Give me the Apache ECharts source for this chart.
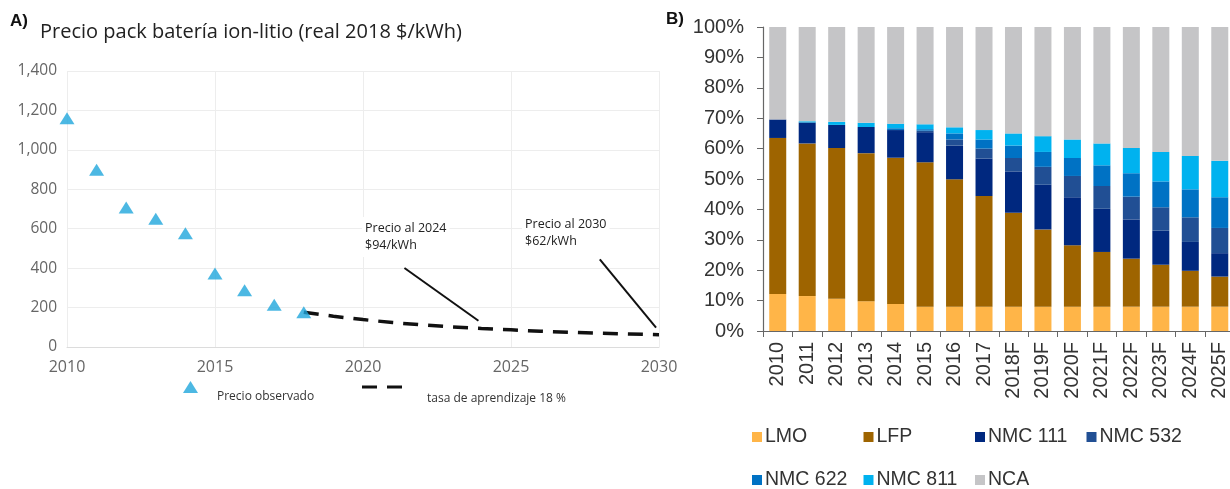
<!DOCTYPE html>
<html><head><meta charset="utf-8">
<script src="https://cdn.jsdelivr.net/npm/echarts@6/dist/echarts.min.js"></script>
<style>html,body{margin:0;padding:0;background:#fff}#c{width:1230px;height:489px}</style>
</head><body><div id="c"></div>
<script>
// ---- Panel A data ----
const observedYears = [2010, 2011, 2012, 2013, 2014, 2015, 2016, 2017, 2018];
const observedPrice = [1160, 899, 707, 650, 577, 373, 288, 214, 176];
const forecastYears = [2018, 2019, 2020, 2021, 2022, 2023, 2024, 2025, 2026, 2027, 2028, 2029, 2030];
const forecastPrice = [176, 156, 139, 124, 112, 102, 94, 87, 80, 75, 70, 66, 62];
const priceTicksY = [0, 200, 400, 600, 800, 1000, 1200, 1400];
const yearTicksX = [2010, 2015, 2020, 2025, 2030];
const annotationText = ['Precio al 2024\n$94/kWh', 'Precio al 2030\n$62/kWh'];
const annotationLines = [[[2021.4, 401], [2023.9, 133]], [[2028.0, 445], [2029.9, 98]]];

// ---- Panel B data (share %, stacked) ----
const categories = ['2010','2011','2012','2013','2014','2015','2016','2017','2018F','2019F','2020F','2021F','2022F','2023F','2024F','2025F'];
const lmo    = [12.2, 11.5, 10.6, 9.8, 8.9, 8.0, 8.0, 8.0, 8.0, 8.0, 8.0, 8.0, 8.0, 8.0, 8.0, 8.0];
const lfp    = [51.3, 50.2, 49.6, 48.7, 48.1, 47.5, 41.9, 36.4, 30.9, 25.4, 20.2, 18.0, 15.8, 13.8, 11.8, 9.9];
const nmc111 = [6.1, 6.9, 7.6, 8.6, 9.1, 9.9, 11.1, 12.3, 13.6, 14.7, 15.8, 14.2, 12.9, 11.2, 9.5, 7.7];
const nmc532 = [0, 0, 0, 0, 0, 0.5, 2.0, 3.3, 4.4, 5.9, 7.0, 7.5, 7.5, 7.7, 8.1, 8.3];
const nmc622 = [0, 0, 0, 0, 0.6, 0.5, 2.0, 3.0, 4.1, 4.9, 5.9, 6.8, 7.7, 8.5, 9.2, 10.1];
const nmc811 = [0, 0.4, 1.0, 1.4, 1.5, 1.6, 2.0, 3.1, 4.0, 5.2, 6.1, 7.2, 8.3, 9.7, 11.0, 12.0];
const nca    = [30.4, 31.0, 31.2, 31.5, 31.8, 32.0, 33.0, 33.9, 35.0, 35.9, 37.0, 38.3, 39.8, 41.1, 42.4, 44.0];
const seriesNamesB = ['LMO', 'LFP', 'NMC 111', 'NMC 532', 'NMC 622', 'NMC 811', 'NCA'];
const seriesValuesB = [lmo, lfp, nmc111, nmc532, nmc622, nmc811, nca];
const colorsB = ['#ffb548', '#9e6400', '#00287f', '#214f94', '#0072c4', '#00b2ef', '#c5c5c7'];

const fontA = '"Open Sans", "Noto Sans", sans-serif';
const fontB = '"Liberation Sans", Arial, sans-serif';

const chart = echarts.init(document.getElementById('c'), null, {renderer: 'canvas'});

const seriesB = seriesNamesB.map((n, i) => ({
  name: n, type: 'bar', stack: 'b', xAxisIndex: 1, yAxisIndex: 1,
  barWidth: 17, itemStyle: {color: colorsB[i]},
  data: seriesValuesB[i]
}));

// legend layout for panel B (4 columns, 2 rows)
const legendColsB = [752, 863.5, 975, 1086.5];
const legendRowsB = [427, 470];
const legendsB = seriesNamesB.map((n, i) => ({
  data: [n], left: legendColsB[i % 4], top: legendRowsB[Math.floor(i / 4)], padding: 0,
  icon: 'rect', itemWidth: 10, itemHeight: 10, selectedMode: false,
  textStyle: {fontFamily: fontB, fontSize: 19.5, color: '#333', padding: [0, 0, 0, -2]}
}));

chart.setOption({
  animation: false,
  backgroundColor: '#fff',
  grid: [
    {left: 67, right: 571, top: 71, bottom: 142, outerBoundsMode: 'none'},
    {left: 763, right: -4.5, top: 27, bottom: 158, outerBoundsMode: 'none'}
  ],
  xAxis: [
    {type: 'value', gridIndex: 0, min: yearTicksX[0], max: yearTicksX[yearTicksX.length - 1], interval: 5,
     axisLine: {show: true, lineStyle: {color: '#dcdcdc', width: 1}},
     axisTick: {show: false},
     splitLine: {show: true, lineStyle: {color: '#ededed'}},
     axisLabel: {color: '#666', fontFamily: fontA, fontSize: 16, margin: 12, formatter: v => String(v)}},
    {type: 'category', gridIndex: 1, data: categories,
     axisLine: {lineStyle: {color: '#666', width: 1.2}},
     axisTick: {show: true, length: 6, lineStyle: {color: '#666'}},
     axisLabel: {rotate: 90, color: '#333', fontFamily: fontB, fontSize: 20, margin: 11}}
  ],
  yAxis: [
    {type: 'value', gridIndex: 0, min: priceTicksY[0], max: priceTicksY[priceTicksY.length - 1], interval: 200,
     axisLine: {show: false}, axisTick: {show: false},
     splitLine: {show: true, lineStyle: {color: '#ededed'}},
     axisLabel: {color: '#666', fontFamily: fontA, fontSize: 15.5, margin: 10,
                 formatter: v => v.toLocaleString('en-US')}},
    {type: 'value', gridIndex: 1, min: 0, max: 100, interval: 10,
     axisLine: {show: true, lineStyle: {color: '#666', width: 1.2}},
     axisTick: {show: true, length: 6, lineStyle: {color: '#666'}},
     splitLine: {show: false},
     axisLabel: {color: '#333', fontFamily: fontB, fontSize: 20, margin: 19, formatter: '{value}%'}}
  ],
  legend: [
    {data: [{name: 'Precio observado', icon: 'triangle'}], left: 183, top: 367, padding: 0,
     itemWidth: 15, itemHeight: 12, selectedMode: false,
     formatter: n => '\n' + n,
     textStyle: {fontFamily: fontA, fontSize: 12, color: '#333', lineHeight: 20, padding: [0, 0, 0, 14]}},
    {data: [{name: 'tasa de aprendizaje 18 %', icon: 'path://M0,0H15V3H0Z M25,0H40V3H25Z'}],
     left: 362, top: 364, padding: 0, itemWidth: 40, itemHeight: 12, selectedMode: false,
     formatter: n => '\n' + n,
     textStyle: {fontFamily: fontA, fontSize: 12, color: '#333', lineHeight: 23, padding: [0, 0, 0, 20]}}
  ].concat(legendsB),
  graphic: [
    {type: 'text', left: 10, top: 13, style: {text: 'A)', font: 'bold 17px "Liberation Sans", Arial', fill: '#111'}},
    {type: 'text', left: 40, top: 22, style: {text: 'Precio pack batería ion-litio (real 2018 $/kWh)', font: '20px "Open Sans", sans-serif', fill: '#222'}},
    {type: 'text', left: 666, top: 11, style: {text: 'B)', font: 'bold 17px "Liberation Sans", Arial', fill: '#111'}},
    {type: 'text', left: 362, top: 217, z: 10, style: {text: annotationText[0], font: '12.5px "Open Sans", sans-serif', fill: '#222', lineHeight: 17, backgroundColor: '#fff', padding: [3, 3]}},
    {type: 'text', left: 522, top: 213, z: 10, style: {text: annotationText[1], font: '12.5px "Open Sans", sans-serif', fill: '#222', lineHeight: 17, backgroundColor: '#fff', padding: [3, 3]}}
  ],
  series: [
    {name: 'tasa de aprendizaje 18 %', type: 'line', xAxisIndex: 0, yAxisIndex: 0,
     data: forecastYears.map((y, i) => [y, forecastPrice[i]]),
     showSymbol: false, symbol: 'none', smooth: false, z: 2,
     lineStyle: {color: '#111', width: 3.5, type: [15, 10]},
     itemStyle: {color: '#111'},
     markLine: {silent: true, symbol: ['none', 'none'], label: {show: false},
       lineStyle: {type: 'solid', color: '#111', width: 2},
       data: annotationLines.map(l => [{coord: l[0]}, {coord: l[1]}])}},
    {name: 'Precio observado', type: 'scatter', xAxisIndex: 0, yAxisIndex: 0,
     data: observedYears.map((y, i) => [y, observedPrice[i]]),
     symbol: 'triangle', symbolSize: [15, 12], z: 3,
     itemStyle: {color: '#1fa6dc'}}
  ].concat(seriesB)
});
</script></body></html>
